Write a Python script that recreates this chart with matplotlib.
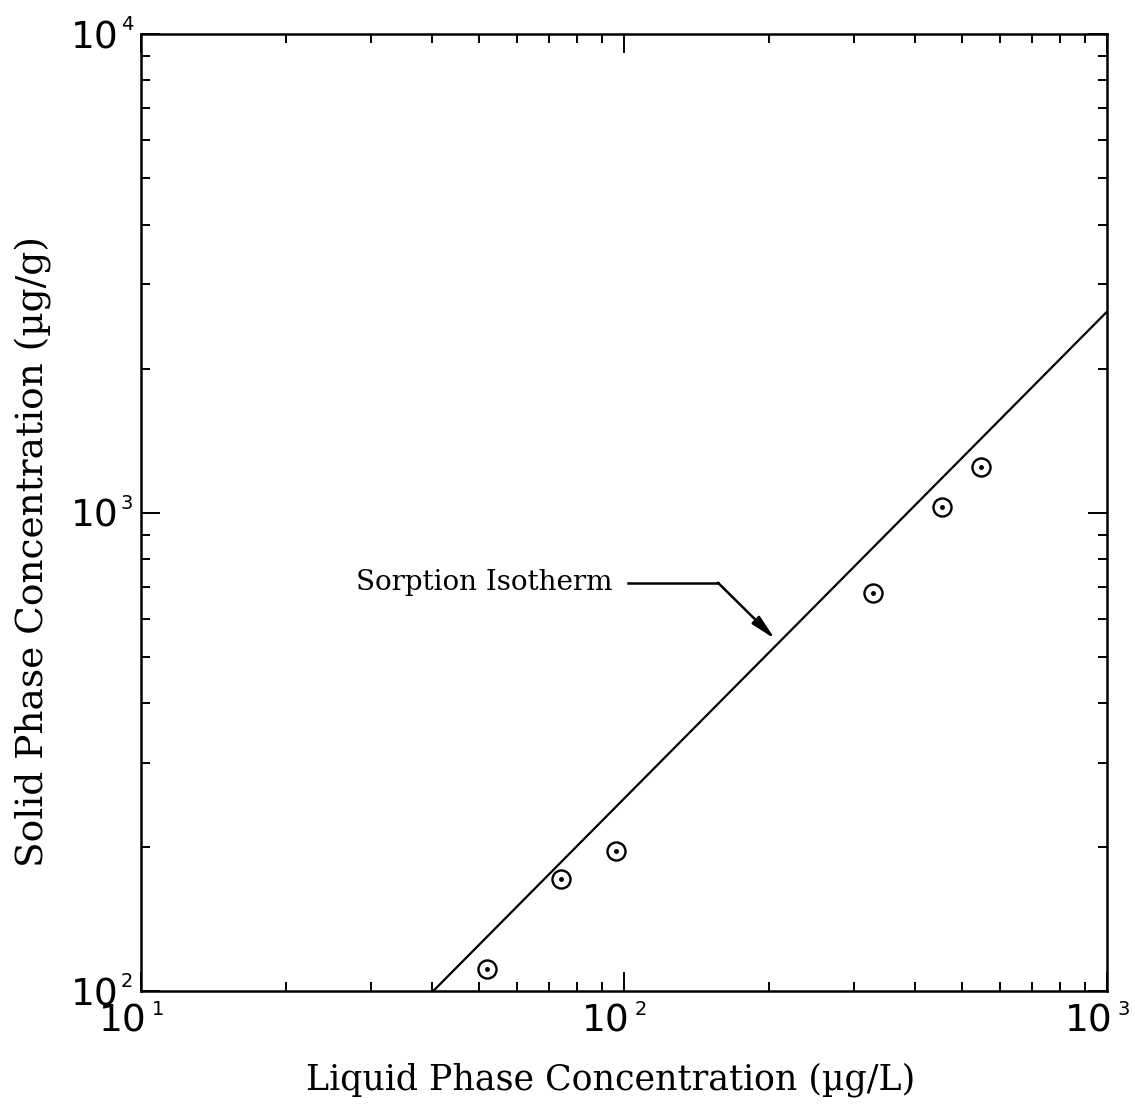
import numpy as np
import matplotlib.pyplot as plt

# measured sorption data (liquid ug/L, solid ug/g)
liquid_conc = [52.0, 74.1, 96.1, 328.2, 454.8, 547.6]
solid_conc = [111.2, 171.5, 196.6, 678.6, 1029.4, 1248.2]

# fitted isotherm, drawn between its two end points
iso_liquid = [40.2, 1000.0]
iso_solid = [100.0, 2630.0]

decades_x = [10, 100, 1000]
decades_y = [100, 1000, 10000]
exp_x = ["1", "2", "3"]
exp_y = ["2", "3", "4"]

PX = 0.72  # points per pixel at 100 dpi

fig = plt.figure(figsize=(11.35, 11.09), dpi=100)
ax = fig.add_axes([0.1242, 0.1060, 0.8511, 0.8633])

ax.set_xscale("log")
ax.set_yscale("log")
ax.set_xlim(10, 1000)
ax.set_ylim(100, 10000)

ax.plot(iso_liquid, iso_solid, color="black", lw=1.6, solid_capstyle="butt")
ax.plot(liquid_conc, solid_conc, linestyle="none", marker="o", ms=13,
        mfc="none", mec="black", mew=1.7)
ax.plot(liquid_conc, solid_conc, linestyle="none", marker="o", ms=2.5,
        mfc="black", mec="black")

# label with a bent leader pointing at the isotherm
ax.text(94.9, 689.5, "Sorption Isotherm", family="DejaVu Serif", fontsize=20,
        ha="right", va="baseline")
ax.plot([101.9, 156.5], [714.3, 714.3], color="black", lw=1.8)
ax.annotate("", xy=(205.4, 544.9), xytext=(156.5, 714.3),
            arrowprops=dict(arrowstyle="-|>,head_length=1.5,head_width=0.32",
                            color="black", lw=1.8, shrinkA=0, shrinkB=0))

for side in ax.spines.values():
    side.set_linewidth(1.8)

ax.tick_params(which="both", direction="in", top=True, right=True,
               labelbottom=False, labelleft=False)
ax.tick_params(which="major", length=13.5, width=1.4)
ax.tick_params(which="minor", length=6.5, width=1.4)

# decade labels drawn as "10" with a small raised exponent
for v, e in zip(decades_x, exp_x):
    ax.annotate("10", xy=(v, 0), xycoords=("data", "axes fraction"),
                xytext=(6 * PX, -12 * PX), textcoords="offset points",
                ha="right", va="top", fontsize=27)
    ax.annotate(e, xy=(v, 0), xycoords=("data", "axes fraction"),
                xytext=(11 * PX, -9 * PX), textcoords="offset points",
                ha="left", va="top", fontsize=14)

for v, e in zip(decades_y, exp_y):
    ax.annotate("10", xy=(0, v), xycoords=("axes fraction", "data"),
                xytext=(-22 * PX, -14 * PX), textcoords="offset points",
                ha="right", va="baseline", fontsize=27)
    ax.annotate(e, xy=(0, v), xycoords=("axes fraction", "data"),
                xytext=(-20 * PX, 19 * PX), textcoords="offset points",
                ha="left", va="top", fontsize=14)

ax.set_xlabel("Liquid Phase Concentration (\u00b5g/L)", family="DejaVu Serif",
              fontsize=25)
ax.xaxis.set_label_coords(0.4865, -0.074)
ax.set_ylabel("Solid Phase Concentration (\u00b5g/g)", family="DejaVu Serif",
              fontsize=27)
ax.yaxis.set_label_coords(-0.092, 0.459)

fig.savefig("out.png", dpi=100)
